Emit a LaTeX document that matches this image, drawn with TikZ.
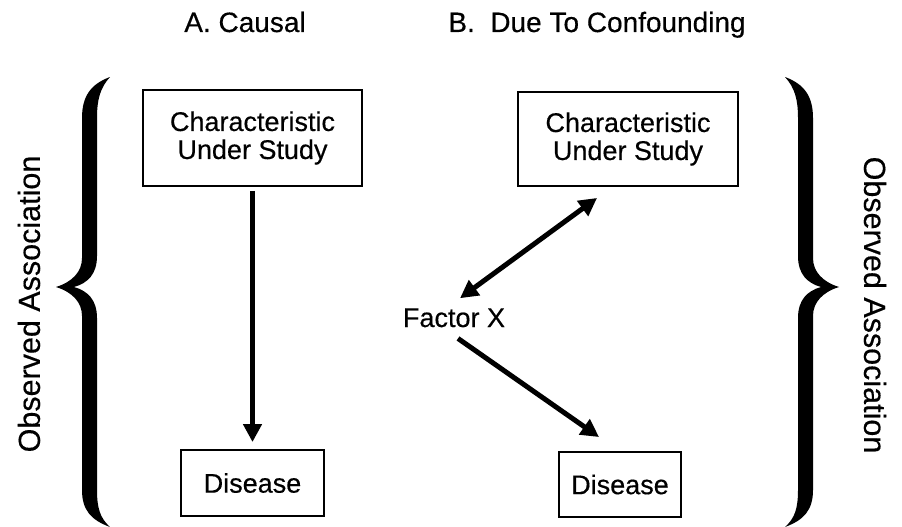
\documentclass[tikz,border=0pt]{standalone}
\usepackage{fontspec}
\setmainfont[FakeBold=0.4]{Liberation Sans}
\usetikzlibrary{arrows.meta,calc}
\begin{document}
\begin{tikzpicture}[x=1pt,y=-1pt,
  box/.style={draw,line width=1.9pt,inner sep=0pt,align=center,
    font=\fontsize{27}{28}\selectfont},
  lbl/.style={font=\fontsize{27}{28}\selectfont,inner sep=0pt,anchor=base},
  heading/.style={font=\fontsize{28}{30}\selectfont,inner sep=0pt,anchor=base},
  side/.style={font=\fontsize{30.5}{32}\selectfont,inner sep=0pt},
  tip/.tip={Triangle[length=18pt,width=18pt]},
  conn/.style={line width=5pt,-tip},
  dconn/.style={line width=5pt,tip-tip},
  curlybrace/.pic={
    \fill (110,77)
      .. controls (91,84) and (82,96) .. (82,118)
      -- (82,258)
      .. controls (82,272) and (72,282) .. (56,287)
      .. controls (72,292) and (82,302) .. (82,316)
      -- (82,490)
      .. controls (82,510) and (91,520) .. (110,527)
      .. controls (100,518) and (97,508) .. (97,490)
      -- (97,318)
      .. controls (97,300) and (88,291) .. (74,287)
      .. controls (88,283) and (97,274) .. (97,256)
      -- (97,118)
      .. controls (97,100) and (100,88) .. (110,77) -- cycle;
  }]
\useasboundingbox[fill=white] (0,0) rectangle (902,527);

% column headings
\node[heading] (ha) at (245,32) {A. Causal};
\node[heading] (hb) at (597,32) {B.\ \ Due To Confounding};

% A: causal path
\node[box,minimum width=219pt,minimum height=96pt] (cus1) at (252.5,138)
  {Characteristic\\Under Study};
\node[box,minimum width=143pt,minimum height=66pt] (dis1) at (252.5,483) {Disease};
\draw[conn] ($(cus1.south)+(0,4)$) -- ($(dis1.north)+(0,-7)$);

% B: confounding path
\node[box,minimum width=220pt,minimum height=94pt] (cus2) at (628,139)
  {Characteristic\\Under Study};
\node[box,minimum width=122pt,minimum height=65pt] (dis2) at (620,484.5) {Disease};
\node[lbl] (fx) at (454,327) {Factor X};
\draw[dconn] ($(fx.north)+(6,-10)$) -- ($(cus2.south west)+(80,11)$);
\draw[conn] ($(fx.south)+(4,11)$) -- ($(dis2.north west)+(41,-14)$);

% side braces and labels
\pic at (0,0) {curlybrace};
\pic[xscale=-1] at (895,0) {curlybrace};
\node[side,rotate=90] (oa1) at (29,304) {Observed Association};
\node[side,rotate=-90] (oa2) at (875,305) {Observed Association};
\end{tikzpicture}
\end{document}
